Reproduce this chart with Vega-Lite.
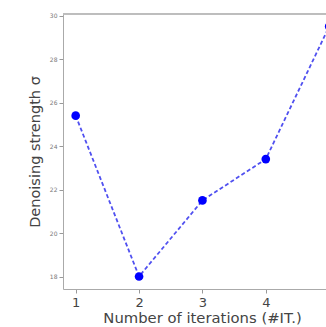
{
  "$schema": "https://vega.github.io/schema/vega-lite/v6.json",
  "width": 263,
  "height": 275,
  "autosize": "none",
  "padding": {"left": 63, "top": 14, "right": 0, "bottom": 38},
  "background": "white",
  "config": {
    "view": {"stroke": null},
    "font": "DejaVu Sans"
  },
  "data": {
    "values": [
      {"it": 1, "sigma": 25.4},
      {"it": 2, "sigma": 18.0},
      {"it": 3, "sigma": 21.5},
      {"it": 4, "sigma": 23.4},
      {"it": 5, "sigma": 29.5}
    ]
  },
  "encoding": {
    "x": {
      "field": "it",
      "type": "quantitative",
      "scale": {"domain": [0.8, 4.95], "nice": false, "zero": false},
      "axis": {
        "values": [1, 2, 3, 4],
        "title": "Number of iterations (#IT.)",
        "titleX": 139,
        "titleFontSize": 14.8,
        "titleFontWeight": "normal",
        "titleColor": "#444",
        "titlePadding": 1,
        "labelFontSize": 13,
        "labelColor": "#444",
        "labelPadding": 3,
        "tickSize": 4,
        "tickColor": "#999",
        "domainColor": "#aaa",
        "grid": false
      }
    },
    "y": {
      "field": "sigma",
      "type": "quantitative",
      "scale": {"domain": [17.425, 30.075], "nice": false, "zero": false},
      "axis": {
        "values": [18, 20, 22, 24, 26, 28, 30],
        "title": "Denoising strength σ",
        "titleFontSize": 14.5,
        "titleFontWeight": "normal",
        "titleColor": "#444",
        "titlePadding": 7,
        "labelFontSize": 6,
        "labelColor": "#777",
        "labelPadding": 2,
        "tickSize": 4,
        "tickColor": "#999",
        "domainColor": "#aaa",
        "grid": false
      }
    }
  },
  "layer": [
    {
      "mark": {"type": "rule", "color": "#bbb", "strokeWidth": 1},
      "encoding": {"y": {"datum": 30.075, "type": "quantitative"}, "x": null}
    },
    {
      "mark": {"type": "line", "color": "#5050f0", "strokeWidth": 1.8, "strokeDash": [4, 2.5], "clip": true}
    },
    {
      "mark": {"type": "point", "filled": true, "color": "#0000ff", "opacity": 1, "size": 75, "clip": true}
    }
  ]
}
